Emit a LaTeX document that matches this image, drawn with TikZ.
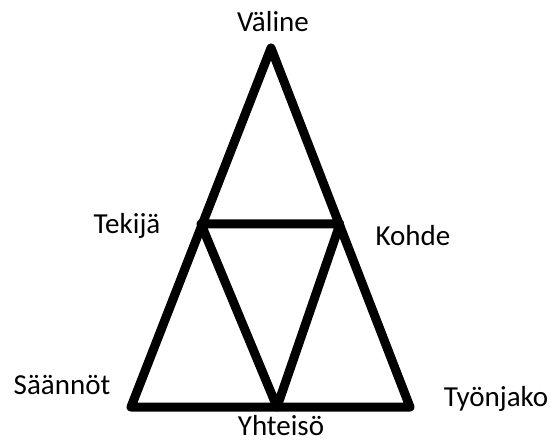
\documentclass[tikz,border=0pt]{standalone}
\usepackage{fontspec}
\setmainfont{Carlito}
\usepackage{tikz}

\begin{document}
\begin{tikzpicture}[x=1pt,y=-1pt,
    edge/.style={line width=9pt, line join=round, line cap=round},
    lbl/.style={font=\fontsize{29}{34}\selectfont, inner sep=0pt}]
  \useasboundingbox (0,0) rectangle (554,443);
  \coordinate (apex) at (271,48);
  \coordinate (bl) at (131,407);
  \coordinate (br) at (410,407);
  \coordinate (ml) at (201,224);
  \coordinate (mr) at (340,224);
  \coordinate (bm) at (277,407);
  \draw[edge] (apex) -- (br) -- (bl) -- cycle;
  \draw[edge] (ml) -- (mr) -- (bm) -- cycle;
  \node[lbl] (valine) at (273,22) {Väline};
  \node[lbl] (tekija) at (127,226) {Tekijä};
  \node[lbl] (kohde) at (413,236) {Kohde};
  \node[lbl] (saannot) at (62,385) {Säännöt};
  \node[lbl] (tyonjako) at (496,399) {Työnjako};
  \node[lbl] (yhteiso) at (281,426) {Yhteisö};
\end{tikzpicture}
\end{document}
